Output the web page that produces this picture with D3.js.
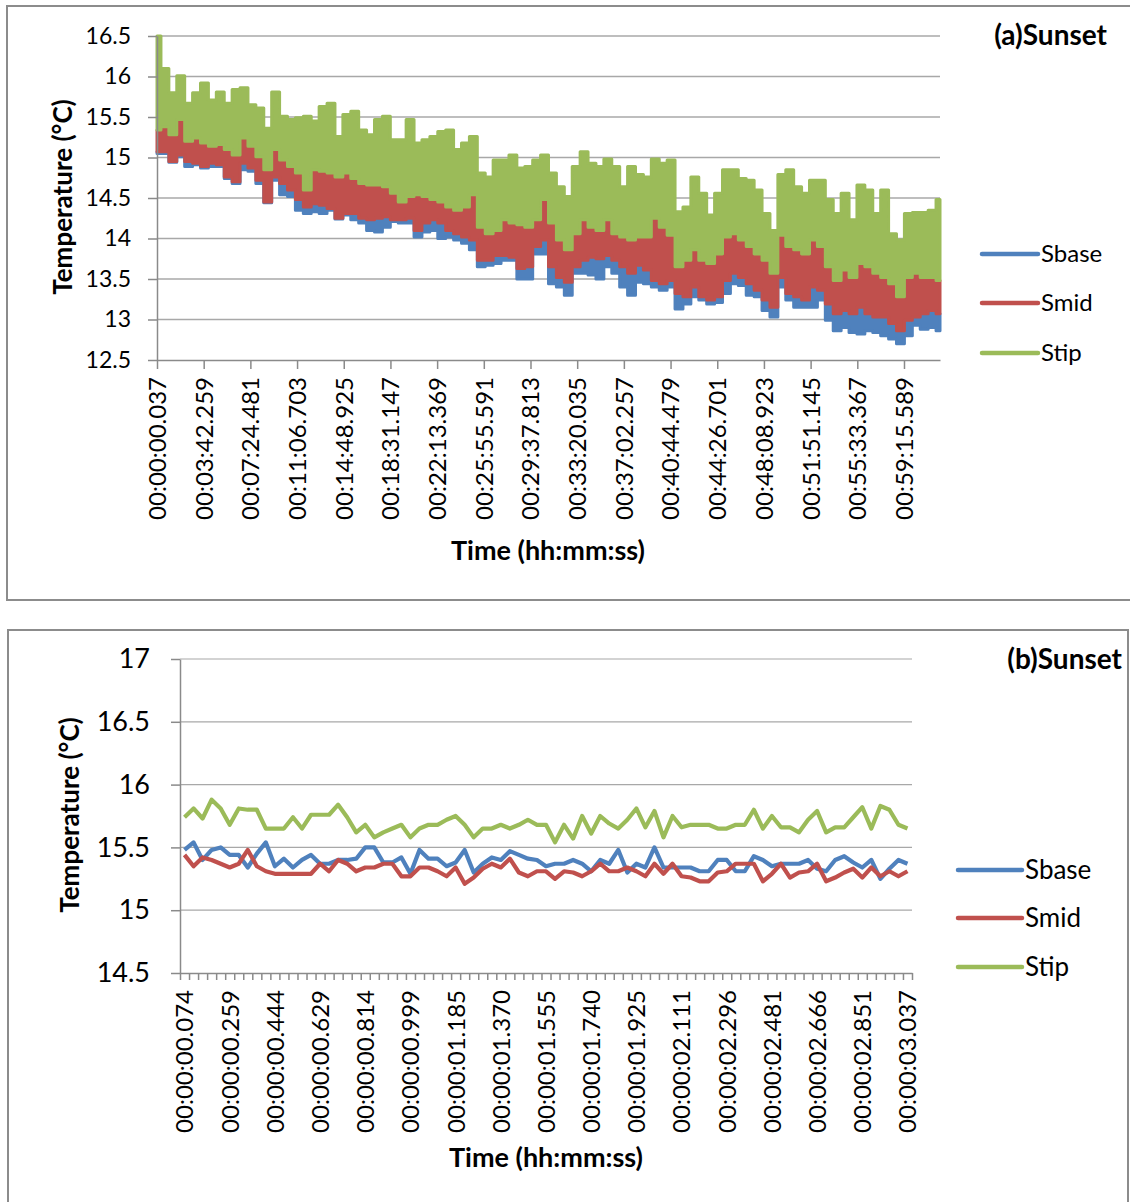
<!DOCTYPE html>
<html>
<head>
<meta charset="utf-8">
<script src="https://cdn.jsdelivr.net/npm/d3@7"></script>
<style>
  body { margin: 0; background: #fff; }
  svg { display: block; }
  text { font-family: Lato, "Open Sans", sans-serif; fill: #000; }
</style>
</head>
<body>
<svg id="chart" width="1130" height="1202"></svg>
<script>
const seriesNames = ["Sbase", "Smid", "Stip"];
const seriesColors = ["#4F81BD", "#C0504D", "#9BBB59"];

// ---- panel (a): one hour, dense record, read as envelopes (100 samples)
const aTimeLabels = ["00:00:00.037","00:03:42.259","00:07:24.481","00:11:06.703","00:14:48.925",
  "00:18:31.147","00:22:13.369","00:25:55.591","00:29:37.813","00:33:20.035","00:37:02.257",
  "00:40:44.479","00:44:26.701","00:48:08.923","00:51:51.145","00:55:33.367","00:59:15.589"];
const aEndTime = 3727;   // seconds at the last sample
const aYTicks = [12.5, 13, 13.5, 14, 14.5, 15, 15.5, 16, 16.5];

const aStipHi = [16.50,16.10,15.80,16.01,15.67,15.80,15.92,15.71,15.81,15.67,
  15.84,15.86,15.65,15.61,15.36,15.81,15.51,15.47,15.49,15.51,
  15.45,15.63,15.67,15.26,15.53,15.57,15.34,15.28,15.47,15.51,
  15.22,15.22,15.47,15.18,15.22,15.26,15.32,15.34,15.10,15.18,
  15.26,14.81,14.76,14.97,14.97,15.03,14.87,14.89,14.97,15.03,
  14.81,14.64,14.52,14.89,15.07,14.93,14.89,14.98,14.89,14.64,
  14.89,14.79,14.76,14.98,14.93,14.97,14.33,14.39,14.76,14.56,
  14.29,14.56,14.85,14.85,14.74,14.72,14.60,14.31,14.10,14.79,
  14.85,14.64,14.56,14.72,14.72,14.48,14.31,14.56,14.23,14.66,
  14.60,14.31,14.60,14.06,13.98,14.31,14.32,14.32,14.35,14.48];
const aStipLo = [15.34,15.38,15.28,15.47,15.20,15.24,15.18,15.14,15.16,15.10,
  15.03,15.24,15.14,15.01,14.85,15.10,14.97,14.89,14.81,14.60,
  14.85,14.83,14.81,14.76,14.81,14.74,14.68,14.66,14.66,14.64,
  14.56,14.45,14.52,14.54,14.52,14.48,14.45,14.39,14.35,14.39,
  14.54,14.14,14.06,14.10,14.23,14.19,14.17,14.14,14.23,14.48,
  14.19,13.98,13.86,14.06,14.23,14.14,14.10,14.23,14.06,14.02,
  13.98,14.02,14.02,14.25,14.14,14.04,13.65,13.73,13.86,13.73,
  13.69,13.81,14.02,14.06,13.98,13.90,13.81,13.73,13.57,14.04,
  13.90,13.86,13.81,13.98,13.90,13.65,13.48,13.61,13.52,13.69,
  13.65,13.57,13.52,13.44,13.28,13.52,13.57,13.52,13.52,13.48];
const aSmidLo = [15.07,15.07,14.95,15.03,14.95,14.93,14.89,14.93,14.91,14.76,
  14.70,14.93,14.87,14.72,14.45,14.76,14.68,14.60,14.48,14.39,
  14.43,14.41,14.37,14.25,14.31,14.31,14.25,14.23,14.25,14.27,
  14.23,14.23,14.25,14.10,14.19,14.23,14.19,14.10,14.06,14.02,
  13.98,13.73,13.73,13.79,13.79,13.77,13.63,13.65,13.90,13.98,
  13.65,13.52,13.46,13.65,13.73,13.77,13.75,13.79,13.73,13.65,
  13.57,13.67,13.61,13.48,13.44,13.48,13.32,13.28,13.40,13.28,
  13.24,13.28,13.48,13.57,13.52,13.44,13.36,13.24,13.15,13.52,
  13.32,13.28,13.24,13.40,13.36,13.19,13.07,13.11,13.07,13.15,
  13.07,13.03,13.03,12.95,12.86,12.99,13.03,13.07,13.11,13.07];
const aSbaseLo = [15.05,15.05,14.94,15.01,14.89,14.91,14.87,14.89,14.89,14.74,
  14.68,14.85,14.83,14.68,14.44,14.72,14.54,14.52,14.35,14.31,
  14.33,14.31,14.35,14.24,14.29,14.23,14.19,14.10,14.08,14.14,
  14.21,14.19,14.19,14.02,14.08,14.10,14.00,14.02,13.98,13.94,
  13.86,13.65,13.67,13.69,13.73,13.73,13.50,13.50,13.81,13.81,
  13.44,13.40,13.30,13.57,13.57,13.55,13.50,13.65,13.57,13.40,
  13.30,13.46,13.44,13.40,13.36,13.40,13.13,13.19,13.28,13.24,
  13.19,13.21,13.32,13.44,13.42,13.30,13.28,13.11,13.03,13.40,
  13.24,13.15,13.15,13.15,13.24,12.99,12.86,12.90,12.84,12.82,
  12.86,12.84,12.80,12.76,12.70,12.80,12.93,12.88,12.90,12.86];

// ---- panel (b): three seconds, 81 samples
const bTimeLabels = ["00:00:00.074","00:00:00.259","00:00:00.444","00:00:00.629","00:00:00.814",
  "00:00:00.999","00:00:01.185","00:00:01.370","00:00:01.555","00:00:01.740","00:00:01.925",
  "00:00:02.111","00:00:02.296","00:00:02.481","00:00:02.666","00:00:02.851","00:00:03.037"];
const bYTicks = [14.5, 15, 15.5, 16, 16.5, 17];

const bSbase = [15.48,15.54,15.40,15.48,15.50,15.44,15.44,15.34,15.45,15.54,
  15.35,15.41,15.34,15.40,15.44,15.37,15.37,15.40,15.40,15.41,
  15.50,15.50,15.38,15.38,15.42,15.29,15.48,15.41,15.41,15.35,
  15.38,15.48,15.30,15.37,15.42,15.40,15.47,15.44,15.41,15.40,
  15.35,15.37,15.37,15.40,15.37,15.31,15.40,15.37,15.48,15.30,
  15.37,15.34,15.50,15.34,15.34,15.34,15.34,15.31,15.31,15.40,
  15.40,15.31,15.31,15.43,15.40,15.35,15.37,15.37,15.37,15.40,
  15.33,15.31,15.40,15.43,15.38,15.34,15.40,15.25,15.33,15.40,15.37];
const bSmid = [15.44,15.35,15.42,15.40,15.37,15.34,15.37,15.48,15.35,15.31,
  15.29,15.29,15.29,15.29,15.29,15.37,15.31,15.40,15.37,15.31,
  15.34,15.34,15.37,15.37,15.27,15.27,15.34,15.34,15.31,15.27,
  15.34,15.21,15.26,15.33,15.37,15.34,15.41,15.30,15.27,15.31,
  15.31,15.25,15.31,15.30,15.27,15.31,15.37,15.31,15.31,15.34,
  15.31,15.27,15.37,15.29,15.37,15.27,15.26,15.23,15.23,15.30,
  15.31,15.37,15.37,15.37,15.23,15.29,15.37,15.26,15.30,15.31,
  15.37,15.23,15.26,15.30,15.33,15.26,15.34,15.27,15.31,15.27,15.31];
const bStip = [15.74,15.81,15.73,15.88,15.81,15.68,15.81,15.80,15.80,15.65,
  15.65,15.65,15.74,15.65,15.76,15.76,15.76,15.84,15.74,15.62,
  15.68,15.58,15.62,15.65,15.68,15.58,15.65,15.68,15.68,15.72,
  15.75,15.68,15.58,15.65,15.65,15.68,15.65,15.68,15.72,15.68,
  15.68,15.54,15.68,15.57,15.75,15.61,15.75,15.69,15.65,15.72,
  15.81,15.66,15.79,15.58,15.75,15.66,15.68,15.68,15.68,15.65,
  15.65,15.68,15.68,15.80,15.65,15.75,15.66,15.66,15.62,15.72,
  15.79,15.62,15.66,15.66,15.74,15.82,15.65,15.83,15.80,15.68,15.65];

// --------------------------------------------------------------
const svg = d3.select("#chart");
const gridColor = "#a8a8a8";
const axisColor = "#8a8a8a";

function toSeconds(s){
  const p = s.split(":");
  return (+p[0]) * 3600 + (+p[1]) * 60 + (+p[2]);
}

function frame(x, y, w, h){
  svg.append("rect").attr("x", x).attr("y", y).attr("width", w).attr("height", h)
     .attr("fill", "none").attr("stroke", "#8c8c8c").attr("stroke-width", 2);
}

function styleAxis(g){
  g.selectAll("path, line").attr("stroke", axisColor).attr("stroke-width", 1.5);
}

function legend(x0, x1, ys, fontSize){
  seriesNames.forEach((name, i) => {
    svg.append("line").attr("x1", x0).attr("x2", x1).attr("y1", ys[i]).attr("y2", ys[i])
       .attr("stroke", seriesColors[i]).attr("stroke-width", 4.5).attr("stroke-linecap", "round");
    svg.append("text").attr("x", x1 + 3).attr("y", ys[i]).attr("dy", "0.35em")
       .style("font-size", fontSize + "px").text(name);
  });
}

function boldText(x, y, size, anchor, txt, rotate){
  const t = svg.append("text").attr("dy", "0.35em").attr("text-anchor", anchor)
    .style("font-size", size + "px").style("font-weight", "bold").text(txt);
  if (rotate) t.attr("transform", `translate(${x},${y}) rotate(-90)`);
  else t.attr("x", x).attr("y", y);
}

// ================= panel (a)
frame(7, 6, 1140, 594);

const ax = d3.scaleLinear().domain([toSeconds(aTimeLabels[0]), aEndTime]).range([157, 940]);
const ay = d3.scaleLinear().domain([12.5, 16.5]).range([360, 36]);
const aStep = (aEndTime - toSeconds(aTimeLabels[0])) / (aStipHi.length - 1);
const aTime = i => toSeconds(aTimeLabels[0]) + i * aStep;

const ga = svg.append("g");
ga.selectAll("line.grid").data(aYTicks.slice(1)).enter().append("line")
  .attr("x1", 157).attr("x2", 940).attr("y1", d => ay(d)).attr("y2", d => ay(d))
  .attr("stroke", gridColor).attr("stroke-width", 1.5);

// bands: each series visible between its low envelope and the one drawn above it
const bands = [
  {lo: aSbaseLo, hi: aSmidLo, color: seriesColors[0]},
  {lo: aSmidLo, hi: aStipLo, color: seriesColors[1]},
  {lo: aStipLo, hi: aStipHi, color: seriesColors[2]}
];
const bandArea = d3.area()
  .curve(d3.curveStep)
  .x((d, i) => ax(aTime(i)))
  .y0(d => ay(d[0]))
  .y1(d => ay(d[1]));
bands.forEach(b => {
  ga.append("path")
    .datum(b.lo.map((v, i) => [v, b.hi[i]]))
    .attr("d", bandArea)
    .attr("fill", b.color)
    .attr("stroke", b.color)
    .attr("stroke-width", 3)
    .attr("stroke-linejoin", "round");
});

const aAxisY = ga.append("g").attr("transform", "translate(157,0)")
  .call(d3.axisLeft(ay).tickValues(aYTicks).tickSize(9).tickSizeOuter(0).tickPadding(17).tickFormat(d => d));
styleAxis(aAxisY);
aAxisY.selectAll("text").style("font-size", "23px").style("font-family", "Lato");

const aAxisX = ga.append("g").attr("transform", "translate(0,360)")
  .call(d3.axisBottom(ax).tickValues(aTimeLabels.map(toSeconds)).tickSize(9).tickSizeOuter(0)
        .tickFormat((d, i) => aTimeLabels[i]));
styleAxis(aAxisX);
aAxisX.selectAll("text")
  .attr("transform", "rotate(-90)").attr("x", -17).attr("y", 0).attr("dy", "0.35em")
  .style("text-anchor", "end").style("font-size", "24px").style("font-family", "Lato");

boldText(63, 197, 26, "middle", "Temperature (°C)", true);
boldText(548, 551, 27, "middle", "Time (hh:mm:ss)");
boldText(1107, 35, 28, "end", "(a)Sunset");
legend(982, 1038, [254, 303, 353], 24);

// ================= panel (b)
frame(8, 630, 1120, 590);

const bn = bStip.length;
const bx = d3.scaleLinear().domain([-0.5, bn - 0.5]).range([180, 912]);
const by = d3.scaleLinear().domain([14.5, 17]).range([973, 659]);
const bLabelIdx = bTimeLabels.map((d, i) => i * 5);

const gb = svg.append("g");
gb.selectAll("line.grid").data(bYTicks.slice(1)).enter().append("line")
  .attr("x1", 180).attr("x2", 912).attr("y1", d => by(d)).attr("y2", d => by(d))
  .attr("stroke", gridColor).attr("stroke-width", 1.2);

const line = d3.line().x((d, i) => bx(i)).y(d => by(d));
[bSbase, bSmid, bStip].forEach((s, k) => {
  gb.append("path").datum(s).attr("d", line)
    .attr("fill", "none").attr("stroke", seriesColors[k])
    .attr("stroke-width", 4.2).attr("stroke-linejoin", "round");
});

const bAxisY = gb.append("g").attr("transform", "translate(180,0)")
  .call(d3.axisLeft(by).tickValues(bYTicks).tickSize(9).tickSizeOuter(0).tickPadding(21).tickFormat(d => d));
styleAxis(bAxisY);
bAxisY.selectAll("text").style("font-size", "27px").style("font-family", "Lato");

const bAxisTicks = gb.append("g").attr("transform", "translate(0,973)")
  .call(d3.axisBottom(bx).tickValues(d3.range(bn + 1).map(k => k - 0.5)).tickSize(7).tickSizeOuter(0).tickFormat(""));
styleAxis(bAxisTicks);
const bAxisLabels = gb.append("g").attr("transform", "translate(0,973)")
  .call(d3.axisBottom(bx).tickValues(bLabelIdx).tickSize(0).tickFormat((d, i) => bTimeLabels[i]));
bAxisLabels.select(".domain").remove();
bAxisLabels.selectAll("text")
  .attr("transform", "rotate(-90)").attr("x", -17).attr("y", 0).attr("dy", "0.35em")
  .style("text-anchor", "end").style("font-size", "24px").style("font-family", "Lato");

boldText(70, 815, 26, "middle", "Temperature (°C)", true);
boldText(546, 1158, 27, "middle", "Time (hh:mm:ss)");
boldText(1122, 659, 28, "end", "(b)Sunset");
legend(958, 1022, [870, 918, 967], 26);
</script>
</body>
</html>
